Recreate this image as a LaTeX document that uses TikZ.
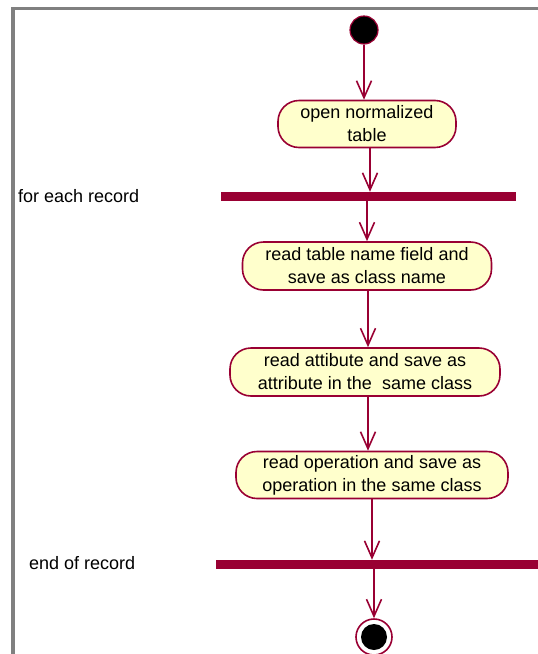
\documentclass[tikz,border=0pt]{standalone}
\usepackage{fontspec}
\setmainfont{Liberation Sans}
\usetikzlibrary{arrows.meta}
\definecolor{uml}{HTML}{990033}
\definecolor{actfill}{HTML}{FFFFCC}
\definecolor{frame}{HTML}{808080}
\tikzset{
  x=1pt, y=-1pt,
  action/.style={draw=uml, fill=actfill, line width=1.6pt, rectangle,
    rounded corners=21pt, align=center, inner sep=0pt,
    font=\fontsize{18}{23}\selectfont},
  syncbar/.style={fill=uml, draw=none, rectangle, inner sep=0pt, minimum height=9pt},
  flow/.style={draw=uml, line width=1.8pt,
    -{Straight Barb[length=17pt, width=15pt, line width=1.6pt]}},
  barlabel/.style={font=\fontsize{18}{20}\selectfont, anchor=west, inner sep=0pt},
}
\begin{document}
\begin{tikzpicture}
\useasboundingbox (0,0) rectangle (538,654);
% page frame
\fill[frame] (11,7) rectangle (538,10);
\fill[frame] (11,7) rectangle (15,654);

% start state
\node[circle, fill=black, draw=uml, line width=1.2pt, minimum size=28pt, inner sep=0pt] (start) at (364,30) {};

% actions and synchronisation bars
\node[action, minimum width=178pt, minimum height=47pt] (n1) at (367,124) {open normalized\\table};
\node[syncbar, minimum width=295pt] (bar1) at (368.5,196.5) {};
\node[barlabel] (l1) at (18,196) {for each record};
\node[action, minimum width=249pt, minimum height=48pt] (n2) at (367,266) {read table name field and\\save as class name};
\node[action, minimum width=270pt, minimum height=48pt] (n3) at (365,372) {read attibute and save as\\attribute in the \ same class};
\node[action, minimum width=272pt, minimum height=47pt] (n4) at (372,475) {read operation and save as\\operation in the same class};
\node[syncbar, minimum width=322pt] (bar2) at (377,564.5) {};
\node[barlabel] (l2) at (29,563) {end of record};

% end state
\node[circle, draw=uml, line width=1.6pt, minimum size=36pt, inner sep=0pt] (stop) at (374,637) {};
\node[circle, fill=black, minimum size=26pt, inner sep=0pt] (stopdot) at (stop.center) {};

% control flow
\draw[flow] (start.south) -- (start.south |- n1.north);
\draw[flow] ([xshift=3pt]n1.south) -- ([xshift=3pt]n1.south |- bar1.north);
\draw[flow] (n2.north |- bar1.south) -- (n2.north);
\draw[flow] ([xshift=1pt]n2.south) -- ([xshift=1pt]n2.south |- n3.north);
\draw[flow] ([xshift=3pt]n3.south) -- ([xshift=3pt]n3.south |- n4.north);
\draw[flow] (n4.south) -- (n4.south |- bar2.north);
\draw[flow] (stop.north |- bar2.south) -- (stop.north);
\end{tikzpicture}
\end{document}
